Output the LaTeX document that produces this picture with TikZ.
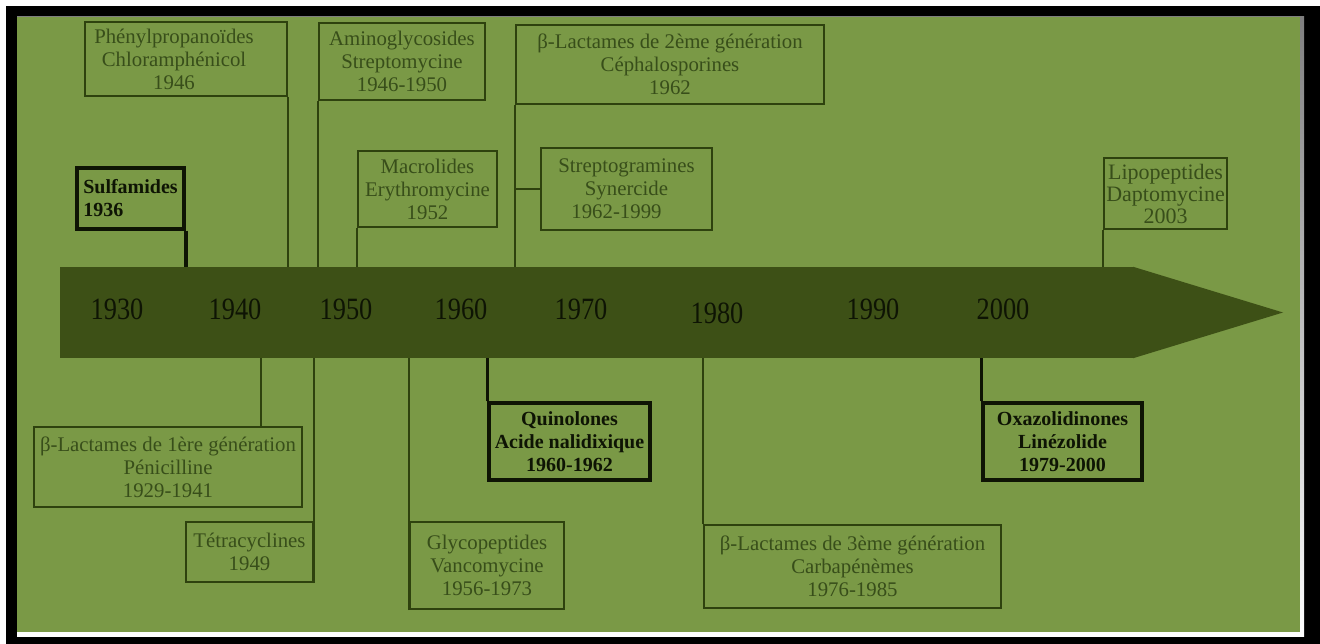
\documentclass[tikz,border=0pt]{standalone}
\usepackage{fontspec}
\setmainfont{Liberation Serif}
\usepackage{graphicx}
\definecolor{bg}{RGB}{122,153,70}
\definecolor{barc}{RGB}{61,80,22}
\definecolor{edge}{RGB}{46,66,14}
\definecolor{txt}{RGB}{56,78,26}
\definecolor{dark}{RGB}{14,20,4}
\definecolor{shade}{RGB}{135,135,135}
\tikzset{
  boxtext/.style={text=txt, align=center, inner sep=0pt,
    font=\fontsize{20.8}{23}\selectfont},
  box/.style={boxtext, draw=edge, line width=2pt},
  boldbox/.style={box, draw=dark, line width=3.5pt, text=dark,
    font=\bfseries\fontsize{20}{23}\selectfont},
  link/.style={draw=edge, line width=2pt},
  boldlink/.style={draw=dark, line width=3.5pt},
  year/.style={text=dark, inner sep=0pt, font=\fontsize{31}{31}\selectfont},
}
\newcommand{\yr}[1]{\scalebox{0.85}[1]{#1}}
\begin{document}
\begin{tikzpicture}[x=1pt, y=-1pt]
\useasboundingbox (0,0) rectangle (1320,644);
% frame
\fill[white] (0,0) rectangle (1320,644);
\fill[black] (6,6) rectangle (1320,644);
\fill[shade] (17,17) rectangle (1304,636);
\fill[bg] (17,17) rectangle (1300,632);

% timeline bar
\node[fill=barc, minimum width=1074pt, minimum height=91pt, inner sep=0pt] (bar) at (597,312.5) {};
\coordinate (tip) at (1283,312.5);
\fill[barc] ([xshift=-1pt]bar.north east) -- (tip) -- ([xshift=-1pt]bar.south east) -- cycle;

% years
\node[year] (y1930) at (117,309) {\yr{1930}};
\node[year] (y1940) at (235,309) {\yr{1940}};
\node[year] (y1950) at (346,309) {\yr{1950}};
\node[year] (y1960) at (461,309) {\yr{1960}};
\node[year] (y1970) at (581,309) {\yr{1970}};
\node[year] (y1980) at (717,313) {\yr{1980}};
\node[year] (y1990) at (873,309) {\yr{1990}};
\node[year] (y2000) at (1003,309) {\yr{2000}};

% upper boxes
\node[box, minimum width=202pt, minimum height=74pt,
  label={[boxtext, xshift=-12pt]center:{Phénylpropanoïdes\\Chloramphénicol\\1946}}] (phen) at (186,59) {};
\node[box, minimum width=166pt, minimum height=77pt] (amino) at (402,61.5)
  {Aminoglycosides\\Streptomycine\\1946-1950};
\node[boldbox, align=left, minimum width=107pt, minimum height=61pt] (sulf) at (130.5,198.5)
  {Sulfamides\\1936};
\node[box, minimum width=139pt, minimum height=76pt] (macro) at (427.5,189)
  {Macrolides\\Erythromycine\\1952};
\node[box, minimum width=308pt, minimum height=79pt] (blact2) at (670,64.5)
  {β-Lactames de 2ème génération\\Céphalosporines\\1962};
\node[box, minimum width=171pt, minimum height=82pt] (strepto) at (626.5,189)
  {Streptogramines\\Synercide\hspace*{20pt}\\1962-1999\hspace*{20pt}};
\node[box, minimum width=123pt, minimum height=71pt,
  font=\fontsize{22}{22}\selectfont] (lipo) at (1165.5,194)
  {Lipopeptides\\Daptomycine\\2003};

% lower boxes
\node[box, minimum width=268pt, minimum height=80pt] (blact1) at (168,467)
  {β-Lactames de 1ère génération\\Pénicilline\\1929-1941};
\node[box, minimum width=127pt, minimum height=60pt] (tetra) at (249.5,552)
  {Tétracyclines\\1949};
\node[box, minimum width=154pt, minimum height=87pt] (glyco) at (487,565.5)
  {Glycopeptides\\Vancomycine\\1956-1973};
\node[boldbox, minimum width=161pt, minimum height=77pt] (quino) at (569.5,441.5)
  {Quinolones\\Acide nalidixique\\1960-1962};
\node[box, minimum width=297pt, minimum height=83pt] (blact3) at (852.5,566.5)
  {β-Lactames de 3ème génération\\Carbapénèmes\\1976-1985};
\node[boldbox, minimum width=159pt, minimum height=77pt] (oxazo) at (1062.5,441.5)
  {Oxazolidinones\\Linézolide\\1979-2000};

% connectors above the bar
\draw[boldlink] (sulf.south east) -- (sulf.south east |- bar.north);
\draw[link] (phen.south east) -- (phen.south east |- bar.north);
\draw[link] (amino.south west) -- (amino.south west |- bar.north);
\draw[link] (macro.south west) -- (macro.south west |- bar.north);
\draw[link] (blact2.south west) -- (blact2.south west |- bar.north);
\draw[link] (strepto.west) -- (strepto.west -| blact2.south west);
\draw[link] (lipo.south west) -- (lipo.south west |- bar.north);

% connectors below the bar
\coordinate (b1x) at (261,0);
\draw[link] (blact1.north -| b1x) -- (bar.south -| b1x);
\draw[link] (tetra.south east) -- (tetra.south east |- bar.south);
\draw[link] (glyco.south west) -- (glyco.south west |- bar.south);
\draw[boldlink] (quino.north west) -- (quino.north west |- bar.south);
\draw[link] (blact3.north west) -- (blact3.north west |- bar.south);
\draw[boldlink] (oxazo.north west) -- (oxazo.north west |- bar.south);
\end{tikzpicture}
\end{document}
